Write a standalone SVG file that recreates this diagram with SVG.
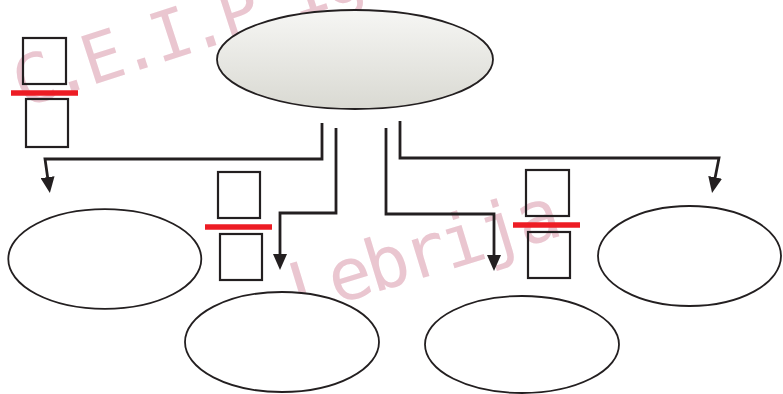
<svg xmlns="http://www.w3.org/2000/svg" width="783" height="394" viewBox="0 0 783 394">
<style>
.wm{font-family:"DejaVu Sans Mono","Liberation Mono",monospace;fill:#eac6d0;}
.box{fill:none;stroke:#231f20;stroke-width:2.2;}
.bar{stroke:#ed1c24;stroke-width:5.5;}
.node{fill:#ffffff;stroke:#231f20;stroke-width:1.8;}
.conn{fill:none;stroke:#231f20;stroke-width:2.8;stroke-linejoin:miter;marker-end:url(#arr);}
</style>
<defs>
<linearGradient id="g1" x1="0" y1="0" x2="0" y2="1">
<stop offset="0" stop-color="#f6f6f4"/>
<stop offset="1" stop-color="#d9d9d2"/>
</linearGradient>
<marker id="arr" viewBox="0 0 16 14" markerWidth="16" markerHeight="14" refX="7" refY="7" orient="auto" markerUnits="userSpaceOnUse">
<path d="M0,0 L16,7 L0,14 z" fill="#231f20"/>
</marker>
</defs>
<rect width="783" height="394" fill="#ffffff"/>
<g id="watermark">
<text class="wm" x="22" y="108" font-size="68" letter-spacing="-5" transform="rotate(-18 22 108)">C.E.I.P Ig</text>
<text class="wm" x="298" y="316" font-size="72" letter-spacing="-4" transform="rotate(-17 298 316)">Lebrija</text>
</g>
<g id="connectors">
<path class="conn" d="M322,123 V159 H45 L48.6,184.1"/>
<path class="conn" d="M336,128 V213 H280 V261"/>
<path class="conn" d="M386,128 V214 H494 V262"/>
<path class="conn" d="M400,121 V158 H719 L713.8,184.2"/>
</g>
<g id="root">
<ellipse cx="355" cy="59.5" rx="138" ry="49.5" fill="url(#g1)" stroke="#231f20" stroke-width="1.8"/>
</g>
<g id="node-left">
<ellipse class="node" cx="104.8" cy="259" rx="96.5" ry="49.8"/>
</g>
<g id="node-bottom-mid">
<ellipse class="node" cx="282" cy="342" rx="97" ry="50"/>
</g>
<g id="node-bottom-right">
<ellipse class="node" cx="522" cy="344.5" rx="97" ry="48.5"/>
</g>
<g id="node-right">
<ellipse class="node" cx="689.5" cy="256" rx="91.5" ry="50"/>
</g>
<g id="fraction-top-left">
<rect class="box" x="23" y="38" width="43" height="46"/>
<line class="bar" x1="11" y1="93" x2="78" y2="93"/>
<rect class="box" x="26" y="99" width="42" height="48"/>
</g>
<g id="fraction-mid-left">
<rect class="box" x="218" y="172" width="42" height="46"/>
<line class="bar" x1="205" y1="227" x2="272" y2="227"/>
<rect class="box" x="220" y="234" width="42" height="46"/>
</g>
<g id="fraction-mid-right">
<rect class="box" x="526" y="170" width="43" height="46"/>
<line class="bar" x1="513" y1="225" x2="580" y2="225"/>
<rect class="box" x="528" y="232" width="42" height="46"/>
</g>
</svg>
